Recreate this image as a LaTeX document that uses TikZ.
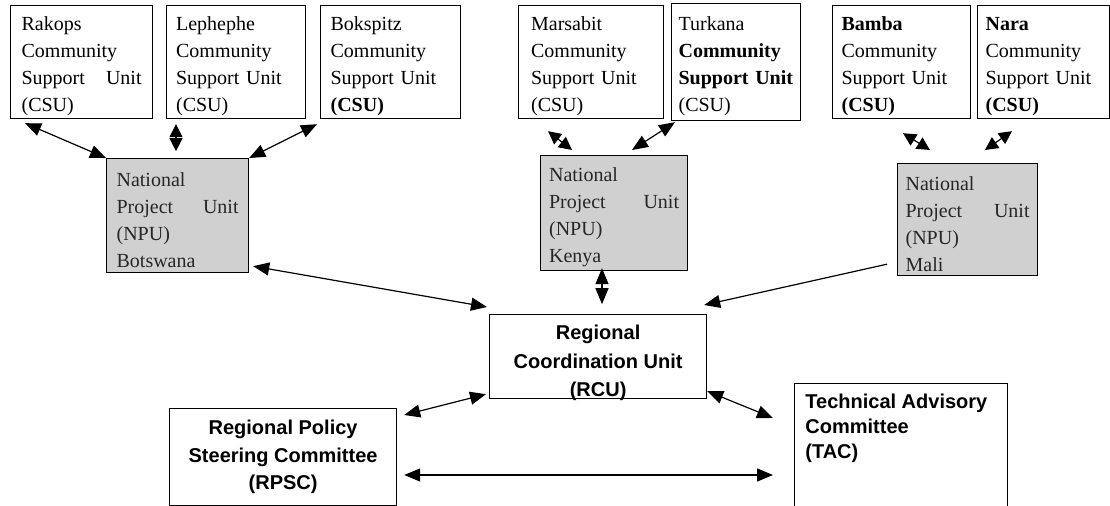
\documentclass[tikz,border=0pt]{standalone}
\usepackage{fontspec}
\setmainfont{Liberation Serif}
\newfontfamily\arialfont{Liberation Sans}
\usepackage{xcolor}
\usetikzlibrary{positioning,arrows.meta}
\definecolor{npugray}{RGB}{208,208,208}
\newcommand{\wordgap}{\hskip 0pt plus 1fill\relax}

\tikzset{
    csubox/.style={draw, line width=0.6pt, anchor=north west, align=left,
        text width=60pt, inner xsep=4pt, inner ysep=0.5pt, minimum height=56.5pt,
        font=\fontsize{10}{13.5}\selectfont,
        execute at begin node={\rule{0pt}{11.5pt}}},
    npubox/.style={csubox, fill=npugray, text=black!85, minimum height=57pt,
        execute at begin node={\rule{0pt}{9.5pt}}},
    bigbox/.style={draw, line width=0.6pt, anchor=north west},
    boldtext/.style={font=\arialfont\bfseries\fontsize{10}{#1}\selectfont},
    link/.style={{Triangle[length=8pt,width=6.5pt]}-{Triangle[length=8pt,width=6.5pt]}, line width=0.6pt},
    shortlink/.style={{Triangle[length=6.5pt,width=6.5pt]}-{Triangle[length=6.5pt,width=6.5pt]}, line width=0.6pt},
    linkto/.style={-{Triangle[length=8pt,width=6.5pt]}, line width=0.6pt}
}

\begin{document}
\begin{tikzpicture}[x=0.5pt, y=-0.5pt]
\useasboundingbox (0,0) rectangle (1110,506);

% Community Support Units
\node[csubox, minimum width=71pt] (rakops) at (10,5) {Rakops\\Community\\Support\wordgap Unit\\(CSU)};
\node[csubox, minimum width=69.5pt] (lephephe) at (166,5) {Lephephe\\Community\\Support Unit\\(CSU)};
\node[csubox, minimum width=70pt] (bokspitz) at (320,5) {Bokspitz\\Community\\Support Unit\\\textbf{(CSU)}};
\node[csubox, minimum width=72.5pt] (marsabit) at (518,5) {Marsabit\\Community\\Support Unit\\(CSU)};
\node[csubox, minimum width=64.5pt, text width=57.5pt, inner xsep=3.5pt, minimum height=58.5pt] (turkana) at (671,3) {Turkana\\\textbf{Community}\\\textbf{Support Unit}\\(CSU)};
\node[csubox, minimum width=69pt] (bamba) at (832,5) {\textbf{Bamba}\\Community\\Support Unit\\\textbf{(CSU)}};
\node[csubox, minimum width=66pt, text width=58pt] (nara) at (977,5) {\textbf{Nara}\\Community\\Support Unit\\\textbf{(CSU)}};

% National Project Units
\node[npubox, minimum width=71pt, text width=61pt] (npubw) at (106,158) {National\\Project\wordgap Unit\\(NPU)\\Botswana};
\node[npubox, minimum width=73.5pt, text width=65pt, minimum height=57.5pt] (npuke) at (540,155) {National\\Project\wordgap Unit\\(NPU)\\Kenya};
\node[npubox, minimum width=70pt, text width=62pt, minimum height=56pt] (npuml) at (897,163) {National\\Project\wordgap Unit\\(NPU)\\Mali};

% Regional level
\node[bigbox, minimum width=108.5pt, minimum height=42pt] (rcu) at (489,314) {};
\node[boldtext=14.25, align=center, inner sep=0pt, below=5.5pt of rcu.north] (rcutext) {Regional\\Coordination Unit\\(RCU)};
\node[bigbox, minimum width=113.5pt, minimum height=48.5pt, align=center, boldtext=13.75] (rpsc) at (169,408) {Regional Policy\\Steering Committee\\(RPSC)};
\node[bigbox, minimum width=106.5pt, minimum height=70pt] (tac) at (794,383) {};
\node[boldtext=12.5, anchor=north west, inner sep=0pt, align=left] (tactext) at ([shift={(11,11)}]tac.north west) {Technical Advisory\\Committee\\(TAC)};

% CSU to NPU links
\draw[link] ([shift={(15,4)}]rakops.south west) -- (npubw.north west);
\draw[shortlink] ([shift={(10,5)}]lephephe.south west) -- ([shift={(10,32)}]lephephe.south west);
\draw[link] ([shift={(-3,5)}]bokspitz.south west) -- (npubw.north east);
\draw[shortlink] ([shift={(30,12)}]marsabit.south west) -- ([shift={(32,-5)}]npuke.north west);
\draw[link] ([shift={(4,1)}]turkana.south west) -- ([shift={(92,-5)}]npuke.north west);
\draw[shortlink] ([shift={(71,14)}]bamba.south west) -- ([shift={(33,-13)}]npuml.north west);
\draw[shortlink] ([shift={(35,12)}]nara.south west) -- ([shift={(88,-13)}]npuml.north west);

% NPU to RCU links
\draw[link] ([shift={(4,-7)}]npubw.south east) -- ([shift={(-2,-7)}]rcu.north west);
\draw[link] ([shift={(62,-3)}]npuke.south west) -- ([shift={(62,33)}]npuke.south west);
\draw[linkto] ([shift={(-10,-12)}]npuml.south west) -- ([shift={(-3,-9)}]rcu.north east);

% Committees
\draw[link] ([shift={(7,7)}]rpsc.north east) -- ([shift={(-3,-5)}]rcu.south west);
\draw[link] ([shift={(0,-8)}]rcu.south east) -- ([shift={(-21,35)}]tac.north west);
\draw[link] ([shift={(7,67)}]rpsc.north east) -- ([shift={(-21,92)}]tac.north west);

\end{tikzpicture}
\end{document}
